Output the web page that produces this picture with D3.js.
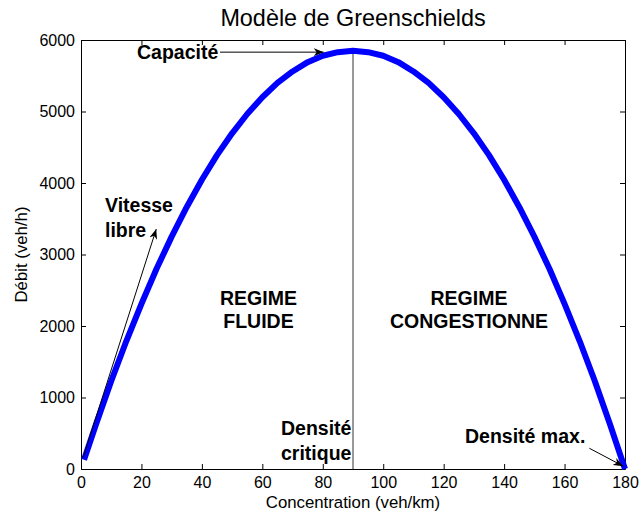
<!DOCTYPE html>
<html>
<head>
<meta charset="utf-8">
<script src="https://cdn.jsdelivr.net/npm/d3@7"></script>
<style>
  html, body { margin: 0; padding: 0; background: #fff; }
  svg { display: block; font-family: "Liberation Sans", Arial, Helvetica, sans-serif; }
</style>
</head>
<body>
<svg id="chart" width="639" height="518"></svg>
<script>
// Greenshields flow–density relation (concentration in veh/km, flow in veh/h)
const concentration = [1, 5, 10, 15, 20, 25, 30, 35, 40, 45, 50, 55, 60, 65, 70, 75, 80, 85, 90,
                       95, 100, 105, 110, 115, 120, 125, 130, 135, 140, 145, 150, 155, 160, 165, 170, 175, 180];
const debit = [130, 630, 1230, 1790, 2310, 2800, 3250, 3665, 4045, 4390, 4695, 4965, 5200, 5400, 5560, 5690, 5780, 5830, 5850,
               5830, 5780, 5690, 5560, 5400, 5200, 4965, 4695, 4390, 4045, 3665, 3250, 2800, 2310, 1790, 1230, 630, 0];

const xTicks = [0, 20, 40, 60, 80, 100, 120, 140, 160, 180];
const yTicks = [0, 1000, 2000, 3000, 4000, 5000, 6000];

const densiteCritique = 90;
const capacite = 5850;

const title = "Modèle de Greenschields";
const xLabel = "Concentration (veh/km)";
const yLabel = "Débit (veh/h)";

const svg = d3.select("#chart");
const margin = { left: 81, right: 14, top: 40, bottom: 49 };
const W = 639, H = 518;

const x = d3.scaleLinear().domain([0, 180]).range([margin.left, W - margin.right]);
const y = d3.scaleLinear().domain([0, 6000]).range([H - margin.bottom, margin.top]);

// arrowhead marker
svg.append("defs").append("marker")
  .attr("id", "head")
  .attr("viewBox", "0 0 10 8")
  .attr("refX", 10).attr("refY", 4)
  .attr("markerWidth", 10).attr("markerHeight", 8)
  .attr("markerUnits", "userSpaceOnUse")
  .attr("orient", "auto")
  .append("path")
  .attr("d", "M0,0 L10,4 L0,8 L3,4 Z")
  .attr("fill", "#000");

// axes with inward ticks (box style)
const fontTick = 16;
const fmt = d3.format("d");
const gx = svg.append("g").attr("transform", `translate(0,${y(0)})`)
  .call(d3.axisBottom(x).tickValues(xTicks).tickFormat(fmt).tickSize(-5).tickPadding(8).tickSizeOuter(0));
const gy = svg.append("g").attr("transform", `translate(${x(0)},0)`)
  .call(d3.axisLeft(y).tickValues(yTicks).tickFormat(fmt).tickSize(-5).tickPadding(6).tickSizeOuter(0));
const gt = svg.append("g").attr("transform", `translate(0,${y(6000)})`)
  .call(d3.axisTop(x).tickValues(xTicks).tickSize(-5).tickFormat("").tickSizeOuter(0));
const gr = svg.append("g").attr("transform", `translate(${x(180)},0)`)
  .call(d3.axisRight(y).tickValues(yTicks).tickSize(-5).tickFormat("").tickSizeOuter(0));

[gx, gy, gt, gr].forEach(g => {
  g.select(".domain").attr("stroke", "#000").attr("stroke-width", 1);
  g.selectAll(".tick line").attr("stroke", "#000");
  g.selectAll("text").attr("font-size", fontTick).attr("fill", "#000")
    .attr("font-family", "'Liberation Sans', Arial, sans-serif");
});

// critical density line
svg.append("line")
  .attr("x1", x(densiteCritique)).attr("x2", x(densiteCritique))
  .attr("y1", y(0)).attr("y2", y(capacite))
  .attr("stroke", "#555").attr("stroke-width", 1.2);

// flow curve
const line = d3.line().x((d, i) => x(concentration[i])).y(d => y(d));
svg.append("path")
  .datum(debit)
  .attr("d", line)
  .attr("fill", "none")
  .attr("stroke", "#0000ff")
  .attr("stroke-width", 6)
  .attr("stroke-linejoin", "round");

// annotation arrows (data coordinates)
const arrows = [
  { from: [46, 5830], to: [80.3, 5830] },
  { from: [0.7, 160], to: [24.9, 3355] },
  { from: [168.2, 290], to: [179.4, 40] }
];
svg.selectAll("line.arrow").data(arrows).join("line")
  .attr("class", "arrow")
  .attr("x1", d => x(d.from[0])).attr("y1", d => y(d.from[1]))
  .attr("x2", d => x(d.to[0])).attr("y2", d => y(d.to[1]))
  .attr("stroke", "#000").attr("stroke-width", 1)
  .attr("marker-end", "url(#head)");

// annotation labels
const fontAnn = 19.5;
function label(lines, px, py, anchor, lh) {
  const t = svg.append("text")
    .attr("font-size", fontAnn).attr("font-weight", "bold")
    .attr("text-anchor", anchor).attr("fill", "#000");
  lines.forEach((s, i) => t.append("tspan").attr("x", px).attr("y", py + i * lh).text(s));
}
label(["Capacité"], 137, 59, "start", 0);
label(["Vitesse", "libre"], 105, 212, "start", 25);
label(["Densité", "critique"], 281, 435, "start", 25);
label(["Densité max."], 465, 443, "start", 0);
label(["REGIME", "FLUIDE"], 258.5, 305, "middle", 23);
label(["REGIME", "CONGESTIONNE"], 469, 305, "middle", 23);

// title and axis titles
svg.append("text").attr("x", 353).attr("y", 26).attr("text-anchor", "middle")
  .attr("font-size", 23.4).attr("fill", "#000").text(title);
svg.append("text").attr("x", 353).attr("y", 508).attr("text-anchor", "middle")
  .attr("font-size", 16.8).attr("fill", "#000").text(xLabel);
svg.append("text").attr("transform", `translate(27,${(y(0) + y(6000)) / 2}) rotate(-90)`)
  .attr("text-anchor", "middle").attr("font-size", 16.8).attr("fill", "#000").text(yLabel);
</script>
</body>
</html>
